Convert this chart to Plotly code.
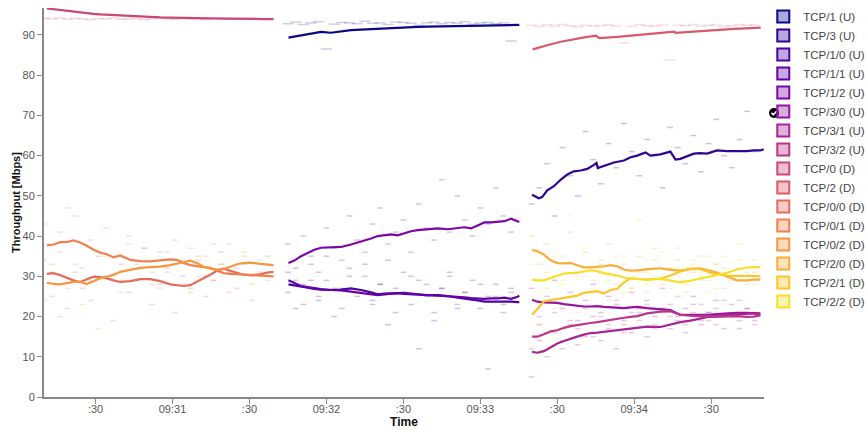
import plotly.graph_objects as go
from plotly.colors import sample_colorscale

# ---------------- data ----------------
series_names = ["TCP/1 (U)", "TCP/3 (U)", "TCP/1/0 (U)", "TCP/1/1 (U)", "TCP/1/2 (U)",
                "TCP/3/0 (U)", "TCP/3/1 (U)", "TCP/3/2 (U)", "TCP/0 (D)", "TCP/2 (D)",
                "TCP/0/0 (D)", "TCP/0/1 (D)", "TCP/0/2 (D)", "TCP/2/0 (D)", "TCP/2/1 (D)",
                "TCP/2/2 (D)"]

x_tickvals = [30, 60, 90, 120, 150, 180, 210, 240, 270]   # seconds after 09:30:00
x_ticktext = [":30", "09:31", ":30", "09:32", ":30", "09:33", ":30", "09:34", ":30"]

# phase 1 (smoothed)
t_p1 = [11.0, 13.6, 16.2, 18.8, 21.4, 24.0, 26.6, 29.2, 31.8, 34.4, 37.0, 39.6, 43.5, 47.4, 51.3, 55.2,
        59.1, 61.7, 64.3, 66.9, 69.5, 72.1, 74.7, 77.3, 79.9, 82.5, 85.1, 87.7, 90.3, 94.2, 96.8, 99.4]
tcp0 = [96.6, 96.4, 96.1, 95.9, 95.7, 95.55, 95.4, 95.25, 95.1, 95.0, 94.9, 94.8, 94.7, 94.55, 94.45, 94.35,
        94.3, 94.25, 94.2, 94.2, 94.15, 94.1, 94.1, 94.1, 94.05, 94.05, 94.0, 94.0, 94.0, 94.0, 93.95, 93.95]
tcp0_0 = [30.6, 30.8, 30.3, 29.6, 29.0, 28.6, 29.2, 29.9, 29.8, 29.5, 29.0, 28.6, 28.8, 29.3, 29.3, 28.8,
          28.0, 27.8, 27.6, 27.8, 28.6, 29.6, 30.4, 31.4, 31.9, 31.4, 30.9, 30.4, 30.3, 30.5, 30.9, 31.1]
tcp0_1 = [37.7, 37.9, 38.5, 38.5, 38.9, 38.4, 37.6, 36.6, 35.9, 35.5, 34.7, 35.2, 34.1, 33.8, 33.7, 34.0,
          34.2, 34.1, 33.3, 32.8, 32.5, 32.3, 32.1, 31.4, 30.8, 30.6, 30.5, 30.4, 30.3, 30.2, 30.1, 30.0]
tcp0_2 = [28.4, 28.1, 28.0, 28.3, 28.6, 28.6, 28.1, 28.8, 29.5, 29.9, 30.4, 31.1, 31.6, 32.1, 32.3, 32.4,
          32.8, 33.1, 33.5, 33.9, 33.3, 32.4, 31.9, 31.7, 31.8, 32.4, 33.0, 33.3, 33.4, 33.1, 32.9, 32.8]

# phase 2 (smoothed)
t_p2 = [105.2, 107.5, 110.1, 112.7, 115.3, 117.9, 121.8, 125.7, 129.6, 133.5, 137.4, 140.0, 142.6, 145.2,
        147.8, 150.4, 153.0, 155.6, 159.5, 163.4, 167.3, 171.2, 173.8, 176.4, 179.0, 181.6, 184.2, 186.8,
        189.4, 192.0, 194.5, 195.2]
tcp1 = [89.35, 89.6, 89.9, 90.1, 90.4, 90.75, 90.55, 90.9, 91.2, 91.3, 91.45, 91.5, 91.6, 91.7, 91.8, 91.85,
        91.9, 92.0, 92.05, 92.1, 92.2, 92.2, 92.25, 92.3, 92.35, 92.4, 92.4, 92.45, 92.45, 92.5, 92.5, 92.5]
tcp1_0 = [28.0, 27.8, 27.5, 27.2, 26.9, 26.7, 26.6, 26.7, 27.0, 26.6, 26.0, 25.5, 25.7, 25.8, 25.8, 25.6,
          25.5, 25.5, 25.3, 25.3, 25.1, 24.7, 24.5, 24.2, 24.0, 23.7, 23.7, 23.7, 23.8, 23.7, 23.6, 23.6]
tcp1_1 = [29.0, 28.4, 27.6, 27.3, 27.0, 26.8, 26.6, 26.5, 26.2, 25.9, 25.6, 25.3, 25.5, 25.7, 25.8, 25.9,
          25.7, 25.5, 25.3, 25.2, 25.1, 25.0, 24.8, 24.6, 24.5, 24.4, 24.5, 24.5, 24.7, 24.4, 24.9, 25.2]
tcp1_2 = [33.3, 33.9, 35.0, 35.8, 36.6, 37.1, 37.2, 37.3, 37.9, 38.6, 39.4, 40.0, 40.2, 40.4, 40.2, 40.7,
          41.2, 41.5, 41.7, 41.9, 41.7, 41.9, 42.2, 41.9, 42.7, 43.4, 43.4, 43.5, 43.7, 44.3, 43.8, 43.5]

# phase 3 (smoothed)
t_p3 = [200.2, 202.2, 204.8, 207.4, 210.0, 212.6, 215.2, 217.8, 220.4, 223.0, 225.6, 228.2, 230.8, 233.4,
        236.0, 238.6, 241.2, 245.0, 250.2, 254.1, 258.0, 261.9, 265.8, 269.7, 273.6, 276.2, 280.1, 284.0,
        286.6, 289.2]
tcp2_0 = [36.6, 36.2, 35.4, 34.0, 33.3, 33.2, 33.3, 32.7, 32.2, 32.2, 32.3, 32.5, 32.8, 32.5, 31.7, 31.4,
          31.5, 31.8, 32.0, 31.6, 31.4, 31.8, 32.0, 31.4, 30.6, 30.0, 29.0, 29.0, 29.2, 29.2]
tcp2_1 = [20.5, 21.8, 23.8, 24.1, 24.3, 24.6, 24.9, 25.2, 25.9, 26.1, 26.3, 25.7, 26.6, 26.9, 28.5, 29.5,
          29.4, 29.2, 29.4, 30.2, 31.2, 31.9, 31.8, 30.9, 30.4, 30.2, 30.1, 30.2, 30.1, 30.0]
tcp2_2 = [29.2, 29.0, 29.0, 29.6, 30.1, 30.7, 30.8, 30.9, 31.2, 31.5, 31.3, 30.8, 30.5, 30.2, 29.7, 29.4,
          29.4, 29.2, 29.4, 29.0, 28.5, 28.9, 29.4, 29.9, 30.5, 30.9, 31.7, 32.2, 32.3, 32.3]
tcp3_0 = [24.2, 23.7, 23.5, 23.4, 23.4, 23.1, 22.9, 22.8, 22.5, 22.5, 22.6, 22.4, 22.3, 22.2, 22.1, 22.3,
          22.4, 22.1, 21.9, 21.6, 20.4, 20.4, 20.4, 20.5, 20.7, 20.8, 20.9, 20.9, 20.9, 20.8]
tcp3_1 = [11.2, 11.0, 11.4, 12.3, 13.3, 13.9, 14.5, 15.0, 15.5, 15.9, 16.0, 16.2, 16.4, 16.6, 16.9, 17.1,
          17.3, 17.5, 17.4, 18.0, 18.6, 19.0, 19.5, 20.0, 20.3, 20.4, 20.7, 20.8, 20.8, 20.4]
tcp3_2 = [15.0, 15.0, 15.6, 16.3, 16.6, 17.2, 17.6, 17.9, 18.2, 18.4, 18.6, 18.9, 19.2, 19.4, 19.7, 19.9,
          20.1, 20.8, 21.2, 21.3, 20.4, 20.2, 20.1, 19.9, 20.0, 20.1, 20.1, 19.9, 20.0, 20.3]

t_tcp2 = [200.4, 202.3, 207.5, 211.4, 215.3, 220.5, 225.1, 226.4, 233.5, 240.0, 246.5, 250.4, 255.6, 256.2,
          266.0, 272.5, 278.9, 285.4, 289.3]
tcp2 = [86.4, 86.8, 87.7, 88.3, 88.8, 89.4, 89.8, 89.2, 89.5, 89.9, 90.2, 90.5, 90.8, 90.5, 91.0, 91.3,
        91.5, 91.7, 91.8]
t_tcp3 = [200.2, 202.8, 204.1, 206.1, 208.7, 211.3, 213.9, 216.5, 219.1, 221.7, 224.3, 225.3, 225.8, 228.2,
          232.1, 236.0, 238.6, 241.2, 244.4, 246.3, 250.2, 254.1, 256.1, 258.0, 260.6, 263.2, 265.8, 268.4,
          272.3, 276.2, 280.1, 284.0, 286.6, 289.2, 290.5]
tcp3 = [50.3, 49.4, 49.7, 51.4, 52.4, 54.0, 55.3, 56.1, 56.3, 56.7, 57.7, 58.2, 56.9, 57.5, 58.3, 58.8,
        59.6, 60.0, 60.8, 60.0, 60.3, 61.0, 59.0, 59.2, 59.8, 60.5, 60.6, 60.5, 61.3, 61.1, 61.1, 61.1,
        61.3, 61.3, 61.6]

# raw samples
raw_t1 = [10, 13, 16, 19, 22, 25, 28, 31, 34, 37, 40, 43, 46, 49, 52, 55, 58, 61, 64, 67, 70, 73, 76, 79,
          82, 85, 88, 91, 94, 97]
raw_t2 = [105, 108, 111, 114, 117, 120, 123, 126, 129, 132, 135, 138, 141, 144, 147, 150, 153, 156, 159,
          162, 165, 168, 171, 174, 177, 180, 183, 186, 189, 192]
raw_t3 = [200, 203, 206, 209, 212, 215, 218, 221, 224, 227, 230, 233, 236, 239, 242, 245, 248, 251, 254,
          257, 260, 263, 266, 269, 272, 275, 278, 281, 284, 287]

raw_tcp0 = [94.1, 94.0, 94.2, 93.9, 94.1, 94.0, 93.8, 94.1, 94.0, 94.2, 93.9, 94.0, 94.1, 93.8, 94.0, 94.2,
            94.0, 93.9, 94.1, 94.0, 94.0, 93.8, 94.1, 94.2, 94.0, 93.9, 94.0, 94.1, 93.9, 94.0]
raw_tcp0_0 = [34, 25, 36, 22, 31, 27, 24, 35, 30, 19, 33, 26, 29, 37, 23, 28, 32, 21, 30, 26,
              34, 25, 29, 36, 31, 27, 33, 24, 30, 35]
raw_tcp0_1 = [43, 33, 41, 47, 45, 32, 39, 30, 42, 35, 29, 40, 33, 37, 28, 36, 31, 39, 34, 27,
              35, 30, 38, 33, 26, 32, 35, 28, 31, 33]
raw_tcp0_2 = [24, 31, 20, 27, 33, 23, 29, 17, 35, 30, 26, 38, 29, 34, 31, 27, 36, 33, 28, 37,
              30, 35, 29, 33, 38, 31, 36, 30, 34, 29]
raw_tcp1 = [92.8, 93.2, 92.6, 93.0, 93.3, 86.5, 92.7, 93.1, 93.0, 92.8, 93.4, 92.9, 93.0, 92.6, 93.2,
            93.1, 92.9, 92.4, 93.0, 93.2, 92.8, 93.1, 92.9, 93.3, 92.7, 93.0, 93.1, 92.8, 93.0, 88.5]
raw_tcp1_0 = [26, 32, 23, 29, 25, 35, 27, 22, 30, 26, 33, 24, 28, 18, 27, 31, 23, 29, 25, 21,
              27, 30, 22, 26, 24, 28, 7, 25, 23, 27]
raw_tcp1_1 = [31, 22, 28, 33, 24, 29, 20, 27, 32, 25, 30, 23, 28, 34, 21, 26, 30, 12, 28, 19,
              27, 31, 23, 26, 29, 22, 25, 28, 21, 26]
raw_tcp1_2 = [38, 29, 40, 35, 31, 42, 37, 34, 45, 39, 36, 43, 47, 38, 41, 44, 36, 48, 42, 39,
              54, 41, 50, 44, 40, 47, 43, 52, 45, 41]
raw_tcp2 = [92.4, 92.1, 92.5, 92.2, 92.6, 92.3, 92.0, 92.4, 92.2, 92.3, 92.5, 92.2, 88.0, 92.1, 92.6,
            92.3, 92.2, 92.5, 83.8, 92.4, 92.3, 92.6, 92.2, 92.4, 92.5, 92.1, 92.3, 92.6, 92.4, 92.5]
raw_tcp3 = [48, 52, 58, 45, 62, 55, 50, 66, 59, 53, 63, 57, 68, 61, 55, 64, 60, 52, 67, 62,
            58, 65, 56, 63, 69, 60, 57, 64, 71, 61]
raw_tcp2_0 = [40, 33, 38, 30, 35, 41, 31, 36, 29, 34, 38, 30, 33, 27, 35, 31, 37, 28, 32, 34,
              26, 31, 35, 29, 33, 27, 30, 32, 28, 31]
raw_tcp2_1 = [24, 18, 27, 22, 29, 25, 21, 30, 26, 33, 24, 28, 35, 27, 31, 26, 34, 29, 32, 37,
              28, 33, 30, 35, 27, 32, 29, 34, 31, 28]
raw_tcp2_2 = [33, 26, 31, 35, 28, 45, 30, 37, 27, 32, 29, 35, 26, 31, 44, 28, 30, 36, 27, 32,
              29, 34, 31, 26, 33, 35, 30, 38, 32, 34]
raw_tcp3_0 = [27, 20, 25, 29, 22, 26, 19, 24, 28, 21, 25, 23, 18, 26, 22, 24, 20, 27, 23, 19,
              22, 25, 18, 21, 24, 20, 23, 19, 22, 21]
raw_tcp3_1 = [5, 14, 10, 16, 12, 18, 13, 15, 20, 14, 17, 12, 19, 16, 21, 15, 18, 22, 17, 20,
              16, 23, 19, 21, 18, 24, 20, 17, 22, 19]
raw_tcp3_2 = [12, 18, 16, 21, 14, 19, 17, 22, 15, 20, 18, 24, 16, 21, 19, 23, 17, 22, 20, 25,
              18, 21, 23, 19, 22, 17, 21, 24, 20, 18]

smooth = {
    "TCP/1 (U)": (t_p2, tcp1), "TCP/3 (U)": (t_tcp3, tcp3),
    "TCP/1/0 (U)": (t_p2, tcp1_0), "TCP/1/1 (U)": (t_p2, tcp1_1), "TCP/1/2 (U)": (t_p2, tcp1_2),
    "TCP/3/0 (U)": (t_p3, tcp3_0), "TCP/3/1 (U)": (t_p3, tcp3_1), "TCP/3/2 (U)": (t_p3, tcp3_2),
    "TCP/0 (D)": (t_p1, tcp0), "TCP/2 (D)": (t_tcp2, tcp2),
    "TCP/0/0 (D)": (t_p1, tcp0_0), "TCP/0/1 (D)": (t_p1, tcp0_1), "TCP/0/2 (D)": (t_p1, tcp0_2),
    "TCP/2/0 (D)": (t_p3, tcp2_0), "TCP/2/1 (D)": (t_p3, tcp2_1), "TCP/2/2 (D)": (t_p3, tcp2_2),
}
raw = {
    "TCP/1 (U)": (raw_t2, raw_tcp1), "TCP/3 (U)": (raw_t3, raw_tcp3),
    "TCP/1/0 (U)": (raw_t2, raw_tcp1_0), "TCP/1/1 (U)": (raw_t2, raw_tcp1_1), "TCP/1/2 (U)": (raw_t2, raw_tcp1_2),
    "TCP/3/0 (U)": (raw_t3, raw_tcp3_0), "TCP/3/1 (U)": (raw_t3, raw_tcp3_1), "TCP/3/2 (U)": (raw_t3, raw_tcp3_2),
    "TCP/0 (D)": (raw_t1, raw_tcp0), "TCP/2 (D)": (raw_t3, raw_tcp2),
    "TCP/0/0 (D)": (raw_t1, raw_tcp0_0), "TCP/0/1 (D)": (raw_t1, raw_tcp0_1), "TCP/0/2 (D)": (raw_t1, raw_tcp0_2),
    "TCP/2/0 (D)": (raw_t3, raw_tcp2_0), "TCP/2/1 (D)": (raw_t3, raw_tcp2_1), "TCP/2/2 (D)": (raw_t3, raw_tcp2_2),
}

# ---------------- figure ----------------
colors = sample_colorscale("Plasma", [i / 16 for i in range(16)])


def rgba(c, a):
    vals = c[c.index("(") + 1:c.index(")")].split(",")
    r, g, b = [int(float(v)) for v in vals[:3]]
    return f"rgba({r},{g},{b},{a})"


fig = go.Figure()
FONT = "Arial, Liberation Sans, sans-serif"

# raw samples (faint dashes)
for name, col in zip(series_names, colors):
    tx, vy = raw[name]
    top = name in ("TCP/0 (D)", "TCP/1 (U)", "TCP/2 (D)")
    fig.add_trace(go.Scatter(
        x=tx, y=vy, mode="markers", showlegend=False, hoverinfo="skip", legendgroup=name,
        marker=dict(symbol="line-ew", size=8 if top else 4,
                    line=dict(color=rgba(col, 0.2 if top else 0.25), width=1.5))))

# smoothed lines
for name, col in zip(series_names, colors):
    tx, vy = smooth[name]
    fig.add_trace(go.Scatter(x=tx, y=vy, mode="lines", name=name, showlegend=False,
                             legendgroup=name, line=dict(color=col, width=2.2)))

# legend entries
for name, col in zip(series_names, colors):
    fig.add_trace(go.Scatter(x=[None], y=[None], mode="markers", name=name, legendgroup=name,
                             marker=dict(symbol="square", size=12, color=rgba(col, 0.35),
                                         line=dict(color=col, width=2))))

fig.update_layout(
    width=865, height=430,
    margin=dict(l=44, r=101, t=8, b=33, autoexpand=False),
    paper_bgcolor="white", plot_bgcolor="white",
    font=dict(family=FONT, size=11, color="#555"),
    legend=dict(x=0.999, y=1.0154, xanchor="left", yanchor="top", bgcolor="rgba(0,0,0,0)",
                font=dict(family=FONT, size=11.5, color="#444"), tracegroupgap=0, maxheight=425),
    xaxis=dict(range=[9.9, 290.6], tickvals=x_tickvals, ticktext=x_ticktext, showgrid=False,
               zeroline=False, showline=True, linecolor="#888", linewidth=1.5,
               ticks="outside", ticklen=5, tickcolor="#888", tickfont=dict(size=11, color="#555"),
               ticklabelstandoff=-4,
               title=dict(text="<b>Time</b>", font=dict(size=12, color="#111"), standoff=0)),
    yaxis=dict(range=[0, 96.7], dtick=10, showgrid=False, zeroline=False, showline=True,
               linecolor="#888", linewidth=2, ticks="outside", ticklen=5, tickcolor="#888",
               tickfont=dict(size=11, color="#555"),
               title=dict(text="<b>Throughput [Mbps]</b>", font=dict(size=11, color="#111"), standoff=0)),
)

# selection check mark next to the legend
cx, cy = (774 - 44) / 720, (397 - 113) / 389
fig.add_shape(type="circle", xref="paper", yref="paper", xsizemode="pixel", ysizemode="pixel",
              xanchor=cx, yanchor=cy, x0=-5, x1=5, y0=-5, y1=5,
              fillcolor="black", line=dict(color="black", width=0))
fig.add_shape(type="path", xref="paper", yref="paper", xsizemode="pixel", ysizemode="pixel",
              xanchor=cx, yanchor=cy, path="M-2.6,0.2 L-0.7,-1.8 L2.8,2",
              line=dict(color="white", width=1.6))

fig.write_html("out.html", post_script="document.body.style.margin='0';",
               config={"displayModeBar": False})
